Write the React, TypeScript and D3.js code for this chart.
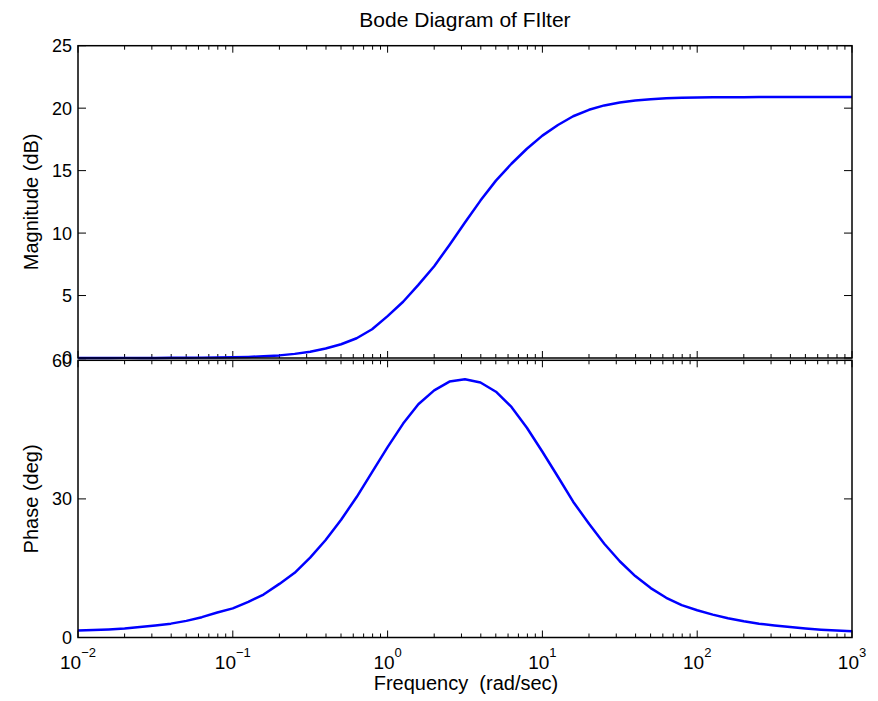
import React from "react";
import { scaleLog, scaleLinear, line } from "d3";

// frequency samples (rad/sec), 10 per decade
const freqs = [
  0.01, 0.0126, 0.0158, 0.02, 0.0251, 0.0316, 0.0398, 0.0501, 0.0631, 0.0794,
  0.1, 0.126, 0.158, 0.2, 0.251, 0.316, 0.398, 0.501, 0.631, 0.794,
  1, 1.26, 1.58, 2, 2.51, 3.16, 3.98, 5.01, 6.31, 7.94,
  10, 12.6, 15.8, 20, 25.1, 31.6, 39.8, 50.1, 63.1, 79.4,
  100, 126, 158, 200, 251, 316, 398, 501, 631, 794,
  1000,
];

// magnitude (dB)
const magnitude = [
  0, 0, 0, 0.01, 0.01, 0.01, 0.02, 0.02, 0.03, 0.04,
  0.06, 0.09, 0.14, 0.21, 0.33, 0.5, 0.76, 1.1, 1.58, 2.3,
  3.35, 4.5, 5.85, 7.35, 9.05, 10.85, 12.6, 14.2, 15.55, 16.75,
  17.8, 18.65, 19.35, 19.87, 20.22, 20.46, 20.62, 20.72, 20.8, 20.84,
  20.86, 20.87, 20.88, 20.88, 20.89, 20.89, 20.89, 20.89, 20.89, 20.89,
  20.89,
];

// phase (deg)
const phase = [
  1.5, 1.6, 1.75, 1.95, 2.25, 2.6, 3.0, 3.6, 4.4, 5.4,
  6.3, 7.7, 9.3, 11.6, 14.0, 17.3, 21.1, 25.5, 30.4, 35.8,
  41.2, 46.3, 50.5, 53.5, 55.4, 55.9, 55.2, 53.2, 49.9, 45.4,
  40.2, 34.8, 29.4, 24.6, 20.3, 16.5, 13.3, 10.7, 8.6, 7.0,
  5.9, 4.95, 4.15, 3.5, 3.0, 2.6, 2.25, 1.95, 1.7, 1.5,
  1.36,
];

const decades = [0.01, 0.1, 1, 10, 100, 1000];
const decadeExp = ["-2", "-1", "0", "1", "2", "3"];
const magTicks = [0, 5, 10, 15, 20, 25];
const phaseTicks = [0, 30, 60];

const W = 878;
const H = 701;
const left = 78;
const right = 852;
const font = "'Liberation Sans', Arial, Helvetica, sans-serif";

const x = scaleLog().domain([0.01, 1000]).range([left, right]);
const yMag = scaleLinear().domain([0, 25]).range([358, 45.7]);
const yPh = scaleLinear().domain([0, 60]).range([637.5, 360.3]);

const minors: number[] = [];
decades.slice(0, -1).forEach((d) => {
  for (let m = 2; m <= 9; m++) minors.push(d * m);
});

const Panel = ({ y, ticks, values, showX }: any) => {
  const [y0, y1] = y.range();
  const path = line<number>()
    .x((_, i) => x(freqs[i]))
    .y((v) => y(v))(values);
  return (
    <g>
      <rect x={left} y={y1} width={right - left} height={y0 - y1} fill="white" />
      {decades.map((d, i) => (
        <g key={"M" + i}>
          <line x1={x(d)} x2={x(d)} y1={y0} y2={y0 - 7} stroke="black" />
          <line x1={x(d)} x2={x(d)} y1={y1} y2={y1 + 7} stroke="black" />
        </g>
      ))}
      {minors.map((d, i) => (
        <g key={"m" + i}>
          <line x1={x(d)} x2={x(d)} y1={y0} y2={y0 - 4} stroke="black" />
          <line x1={x(d)} x2={x(d)} y1={y1} y2={y1 + 4} stroke="black" />
        </g>
      ))}
      {ticks.map((t: number, i: number) => (
        <g key={"y" + i}>
          <line x1={left} x2={left + 8} y1={y(t)} y2={y(t)} stroke="black" />
          <line x1={right} x2={right - 8} y1={y(t)} y2={y(t)} stroke="black" />
          <text
            x={72}
            y={y(t)}
            dy="0.36em"
            textAnchor="end"
            fontSize={18}
            fontFamily={font}
          >
            {t}
          </text>
        </g>
      ))}
      <path d={path || ""} fill="none" stroke="#0000ff" strokeWidth={2.5} strokeLinejoin="round" />
      <rect
        x={left}
        y={y1}
        width={right - left}
        height={y0 - y1}
        fill="none"
        stroke="black"
        strokeWidth={1.5}
      />
      {showX &&
        decades.map((d, i) => (
          <text
            key={"xl" + i}
            x={x(d)}
            y={669}
            textAnchor="middle"
            fontSize={19}
            fontFamily={font}
          >
            10
            <tspan dy={-12} fontSize={13}>
              {decadeExp[i].replace("-", "\u2212")}
            </tspan>
          </text>
        ))}
    </g>
  );
};

export default function App() {
  return (
    <svg
      width={W}
      height={H}
      style={{ position: "absolute", left: 0, top: 0, background: "white" }}
    >
      <rect width={W} height={H} fill="white" />
      <text x={465} y={27} textAnchor="middle" fontSize={21} fontFamily={font}>
        Bode Diagram of FIlter
      </text>
      <Panel y={yMag} ticks={magTicks} values={magnitude} showX={false} />
      <Panel y={yPh} ticks={phaseTicks} values={phase} showX={true} />
      <text
        transform={`translate(38, ${(358 + 45.7) / 2}) rotate(-90)`}
        textAnchor="middle"
        fontSize={20}
        fontFamily={font}
      >
        Magnitude (dB)
      </text>
      <text
        transform={`translate(38, ${(637.5 + 360.3) / 2}) rotate(-90)`}
        textAnchor="middle"
        fontSize={20}
        fontFamily={font}
      >
        Phase (deg)
      </text>
      <text x={466} y={690} textAnchor="middle" fontSize={20} fontFamily={font} style={{ whiteSpace: "pre" }}>
        {"Frequency  (rad/sec)"}
      </text>
    </svg>
  );
}
